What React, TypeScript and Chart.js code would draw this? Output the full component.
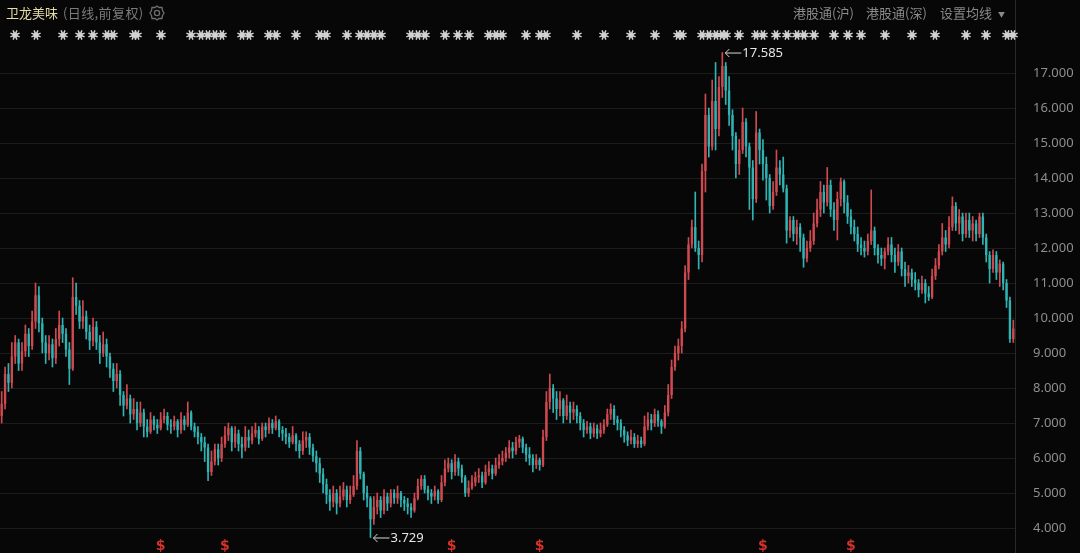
import React, { useEffect, useRef } from "react";
import { Chart, registerables } from "chart.js";

Chart.register(...registerables);

// daily candles (open = previous close)
const firstOpen = 7.2;
const closes = [
  7.55, 8.4, 8.15, 8.9, 9.3, 8.7, 9.05, 9.55, 9.2, 9.9,
  10.65, 9.85, 9.3, 9.0, 9.25, 8.85, 9.4, 9.8, 9.55, 9.1,
  8.55, 10.6, 10.35, 9.9, 10.05, 9.6, 9.35, 9.75, 9.3, 9.0,
  9.25, 8.9, 8.55, 8.2, 8.4, 7.8, 7.5, 7.7, 7.25, 7.4,
  7.0, 7.3, 6.9, 6.75, 7.1, 6.95, 6.85, 7.1, 7.2, 6.95,
  6.9, 7.05, 6.8, 7.1, 6.95, 7.3, 6.9, 6.75, 6.6, 6.45,
  6.3, 5.6, 5.9, 6.25, 6.0, 6.4, 6.65, 6.85, 6.45, 6.7,
  6.4, 6.3, 6.6, 6.5, 6.7, 6.8, 6.55, 6.9, 6.8, 7.0,
  6.85, 7.05, 6.8, 6.7, 6.6, 6.45, 6.65, 6.4, 6.2, 6.5,
  6.6, 6.3, 6.05, 5.85, 5.55, 5.25, 4.95, 4.75, 5.0, 4.7,
  4.9, 5.1, 4.8, 4.95, 5.2, 6.2, 5.55, 5.0, 4.85, 4.25,
  4.6, 4.8, 4.5, 4.9, 4.7, 5.0, 4.85, 5.0, 4.8, 4.7,
  4.6, 4.5, 4.85, 5.2, 5.4, 5.1, 5.0, 4.9, 5.05, 4.8,
  5.3, 5.7, 5.85, 5.6, 5.9, 5.7, 5.45, 5.0, 5.15, 5.3,
  5.45, 5.5, 5.3, 5.6, 5.7, 5.55, 5.8, 5.9, 6.0, 6.15,
  6.3, 6.2, 6.45, 6.55, 6.3, 6.1, 6.0, 5.8, 5.95, 5.8,
  6.6, 7.6, 8.0, 7.7, 7.4, 7.65, 7.2, 7.5, 7.3, 7.4,
  7.2, 7.0, 6.8, 6.9, 6.7, 6.85, 6.7, 6.8, 6.95, 7.25,
  7.4, 7.1, 7.0, 6.8, 6.65, 6.5, 6.6, 6.4, 6.5, 6.4,
  6.9, 7.1, 7.0, 7.25, 7.05, 6.9, 7.3, 7.8, 8.6, 9.0,
  9.2, 9.7, 11.3, 12.1, 12.6, 12.0, 11.8, 14.2, 15.8, 14.9,
  16.2, 15.4, 16.6, 17.2, 16.5, 15.8, 15.2, 14.4, 14.8, 15.6,
  14.9, 14.3, 13.4, 15.3, 14.8, 14.4, 14.0, 13.2, 13.6, 14.3,
  14.1, 13.7, 12.5, 12.8, 12.4, 12.6, 12.3, 11.7, 12.0, 12.2,
  12.7, 13.1, 13.6, 13.3, 13.8, 13.1, 12.8, 13.4, 13.9, 13.3,
  12.9, 12.6, 12.4, 12.1, 12.0, 11.9, 12.2, 12.5, 12.0, 11.8,
  11.7, 11.9, 12.1, 11.8, 11.6, 11.9, 11.4, 11.2, 11.3, 11.1,
  11.0, 10.8, 11.0, 10.7, 10.6, 11.2, 11.5, 11.9, 12.3, 12.1,
  12.6, 13.2, 12.7, 12.9, 12.4, 12.8, 12.5, 12.7, 12.4, 12.9,
  12.3, 11.8, 11.4, 11.8, 11.3, 11.55, 11.0, 10.5, 9.4, 9.7,
];
const highs = [
  7.9, 8.6, 8.7, 9.3, 9.5, 9.4, 9.3, 9.8, 9.7, 10.2,
  11.0, 10.9, 10.0, 9.5, 9.5, 9.4, 9.7, 10.2, 10.0, 9.7,
  9.3, 11.15, 11.0, 10.5, 10.5, 10.2, 9.8, 10.0, 9.9, 9.5,
  9.6, 9.4, 9.0, 8.7, 8.7, 8.5, 7.9, 8.1, 7.8, 7.7,
  7.6, 7.6, 7.4, 7.1, 7.3, 7.2, 7.1, 7.3, 7.4, 7.3,
  7.1, 7.2, 7.1, 7.3, 7.2, 7.6, 7.35, 7.0, 6.9, 6.7,
  6.6, 6.4, 6.2, 6.4, 6.4, 6.6, 6.9, 7.0, 6.9, 6.9,
  6.8, 6.6, 6.9, 6.8, 6.9, 7.0, 6.9, 7.0, 7.0, 7.15,
  7.1, 7.2, 7.1, 6.9, 6.85, 6.7, 6.9, 6.7, 6.5, 6.75,
  6.75, 6.7, 6.4, 6.2, 6.0, 5.7, 5.4, 5.1, 5.2, 5.1,
  5.2, 5.3, 5.2, 5.2, 5.5, 6.5, 6.3, 5.6, 5.2, 4.9,
  4.9, 5.0, 4.9, 5.1, 5.0, 5.1, 5.1, 5.2, 5.05, 4.9,
  4.85, 4.7, 5.0, 5.4, 5.5, 5.5, 5.2, 5.1, 5.2, 5.1,
  5.5, 5.95, 6.0, 5.95, 6.1, 6.0, 5.8, 5.5, 5.35, 5.5,
  5.6, 5.7, 5.6, 5.8, 5.9, 5.8, 6.0, 6.1, 6.2, 6.3,
  6.5, 6.45, 6.6, 6.65, 6.6, 6.4, 6.3, 6.1, 6.1, 6.0,
  6.8, 7.9, 8.4, 8.1, 7.9, 7.9, 7.7, 7.8, 7.6, 7.6,
  7.5, 7.3, 7.1, 7.05, 7.0, 7.0, 6.95, 7.0, 7.1, 7.4,
  7.55, 7.5, 7.2, 7.1, 6.9, 6.75, 6.8, 6.7, 6.65, 6.6,
  7.2, 7.3, 7.25, 7.4, 7.35, 7.1, 7.5, 8.1, 8.8, 9.2,
  9.4, 9.9, 11.5, 12.3, 12.8, 13.6, 12.2, 14.4, 16.4, 16.0,
  16.8, 17.3, 16.9, 17.585, 17.3, 16.9, 15.95, 15.3, 15.1, 16.0,
  15.7, 15.0, 14.5, 15.9, 15.4, 15.1, 14.6, 14.1, 13.9, 14.8,
  14.5, 14.6, 13.8, 12.9, 12.9, 12.8, 12.7, 12.4, 12.2, 12.5,
  13.0, 13.4, 13.9, 13.8, 14.3, 13.94, 13.3, 13.6, 14.0, 13.95,
  13.5, 13.1, 12.8, 12.6, 12.3, 12.2, 12.4, 13.66, 12.6, 12.1,
  12.0, 12.0, 12.3, 12.3, 12.0, 12.1, 12.0, 11.6, 11.5, 11.4,
  11.3, 11.1, 11.2, 11.1, 10.9, 11.4, 11.7, 12.1, 12.7, 12.5,
  12.9, 13.46, 13.3, 13.1, 13.0, 13.0, 13.0, 12.9, 12.8, 13.0,
  13.0, 12.4, 11.9, 11.95, 11.9, 11.66, 11.6, 11.1, 10.6, 9.94,
];
const lows = [
  7.0, 7.4, 7.9, 8.0, 8.7, 8.5, 8.5, 8.9, 8.9, 9.1,
  9.7, 9.6, 9.0, 8.7, 8.8, 8.6, 8.7, 9.2, 9.3, 8.9,
  8.1, 8.5, 10.1, 9.7, 9.7, 9.4, 9.1, 9.2, 9.1, 8.7,
  8.9, 8.6, 8.3, 7.9, 8.0, 7.5, 7.2, 7.4, 7.0, 7.1,
  6.8, 6.9, 6.6, 6.6, 6.7, 6.8, 6.7, 6.8, 7.0, 6.8,
  6.7, 6.8, 6.6, 6.7, 6.8, 6.9, 6.8, 6.6, 6.4, 6.2,
  5.9, 5.35, 5.5, 5.8, 5.8, 5.9, 6.3, 6.5, 6.2, 6.3,
  6.2, 6.0, 6.2, 6.3, 6.4, 6.6, 6.4, 6.5, 6.6, 6.7,
  6.7, 6.8, 6.6, 6.5, 6.4, 6.3, 6.4, 6.2, 6.0, 6.1,
  6.3, 6.1, 5.9, 5.6, 5.3, 5.0, 4.7, 4.5, 4.6, 4.4,
  4.6, 4.8, 4.6, 4.7, 4.9, 5.1, 5.4, 4.8, 4.6, 3.729,
  4.1, 4.4, 4.3, 4.4, 4.5, 4.6, 4.7, 4.7, 4.6, 4.5,
  4.4, 4.3, 4.45, 4.8, 5.1, 5.0, 4.8, 4.7, 4.8, 4.7,
  4.75, 5.2, 5.6, 5.4, 5.5, 5.5, 5.3, 4.9, 4.9, 5.1,
  5.2, 5.3, 5.15, 5.25, 5.5, 5.4, 5.5, 5.7, 5.8, 5.9,
  6.0, 6.0, 6.1, 6.3, 6.15, 5.9, 5.8, 5.6, 5.7, 5.65,
  5.75, 6.5, 7.4, 7.3, 7.1, 7.2, 7.0, 7.1, 7.0, 7.1,
  7.0, 6.8, 6.6, 6.7, 6.55, 6.6, 6.55, 6.6, 6.7, 6.9,
  7.1, 6.95, 6.8, 6.6, 6.45, 6.35, 6.4, 6.3, 6.3, 6.3,
  6.35, 6.8, 6.8, 6.9, 6.9, 6.7, 6.85, 7.2, 7.7, 8.5,
  8.8, 9.0, 9.6, 11.1, 12.0, 11.9, 11.4, 11.6, 13.6, 14.6,
  14.8, 14.8, 15.2, 16.3, 16.1, 15.5, 14.8, 14.0, 14.1, 14.7,
  14.6, 13.1, 12.8, 13.3, 14.4, 13.94, 13.37, 13.0, 13.1, 13.5,
  13.8, 13.6, 12.14, 12.3, 12.2, 12.1, 11.9, 11.45, 11.6, 11.9,
  12.1, 12.6, 12.9, 13.0, 13.2, 12.9, 12.5, 12.23, 13.2, 13.0,
  12.7, 12.4, 12.2, 11.9, 11.8, 11.74, 11.8, 12.1, 11.8, 11.57,
  11.5, 11.4, 11.8, 11.6, 11.3, 11.5, 11.2, 10.9, 11.0, 10.9,
  10.8, 10.6, 10.7, 10.43, 10.5, 10.55, 11.1, 11.4, 11.8, 11.9,
  12.0, 12.5, 12.5, 12.4, 12.2, 12.3, 12.3, 12.2, 12.2, 12.3,
  12.1, 11.6, 11.0, 11.3, 11.1, 10.9, 10.8, 10.3, 9.3, 9.3,
];

const yTicks = [4, 5, 6, 7, 8, 9, 10, 11, 12, 13, 14, 15, 16, 17];
// event markers row and dividend ($) markers, by candle index
const markerIdx = [
  4, 10, 18, 23, 27, 31, 33, 39, 40, 47, 56, 59, 61, 63, 65, 71, 73, 79, 81, 87,
  94, 96, 102, 106, 108, 110, 112, 121, 123, 125, 131, 135, 138, 144, 146, 148, 155, 159, 161,
  170, 178, 186, 193, 200, 201, 207, 209, 211, 213, 214, 218, 223, 225, 229, 232, 235, 237,
  240, 246, 250, 254, 261, 269, 276, 285, 291, 297, 299,
];
const dividendIdx = [47, 66, 133, 159, 225, 251];
const maxIdx = 213;
const minIdx = 109;

const UP = "#cf4a50";
const DOWN = "#2fb3b3";

const App: React.FC = () => {
  const chartRef = useRef<HTMLCanvasElement>(null);

  useEffect(() => {
    if (!chartRef.current) return;
    const opens = closes.map((_, i) => (i === 0 ? firstOpen : closes[i - 1]));
    const labels = closes.map((_, i) => String(i));
    const colors = closes.map((c, i) => (c >= opens[i] ? UP : DOWN));
    const bodies = closes.map((c, i) => [opens[i], c]);
    const wicks = closes.map((c, i) => [
      Math.min(lows[i], opens[i], c),
      Math.max(highs[i], opens[i], c),
    ]);

    const overlay = {
      id: "overlay",
      afterDatasetsDraw(chart: any) {
        const ctx = chart.ctx as CanvasRenderingContext2D;
        const xs = chart.scales.x;
        const ys = chart.scales.y;
        ctx.save();

        // marker row
        ctx.strokeStyle = "#d2d2d2";
        ctx.fillStyle = "#d2d2d2";
        ctx.lineWidth = 1.5;
        markerIdx.forEach((i) => {
          const px = Math.round(xs.getPixelForValue(i));
          const py = 35;
          for (let k = 0; k < 8; k++) {
            const a = (Math.PI / 4) * k + Math.PI / 8;
            ctx.beginPath();
            ctx.moveTo(px, py);
            ctx.lineTo(px + Math.cos(a) * 5, py + Math.sin(a) * 5);
            ctx.stroke();
          }
          ctx.beginPath();
          ctx.arc(px, py, 2.6, 0, Math.PI * 2);
          ctx.fill();
        });

        // dividend markers
        ctx.fillStyle = "#d4322c";
        ctx.font = "bold 14px 'DejaVu Sans', sans-serif";
        ctx.textAlign = "center";
        ctx.textBaseline = "middle";
        dividendIdx.forEach((i) => {
          ctx.fillText("$", xs.getPixelForValue(i), 546);
        });

        // max / min labels
        const label = (i: number, v: number) => {
          const px = xs.getPixelForValue(i) + 2;
          const py = ys.getPixelForValue(v);
          ctx.strokeStyle = "#d8d8d8";
          ctx.lineWidth = 1;
          ctx.beginPath();
          ctx.moveTo(px + 1, py + 0.5);
          ctx.lineTo(px + 17, py + 0.5);
          ctx.moveTo(px + 5, py - 3.5);
          ctx.lineTo(px + 1, py + 0.5);
          ctx.lineTo(px + 5, py + 4.5);
          ctx.stroke();
          ctx.fillStyle = "#e6e6e6";
          ctx.font = "13px 'Noto Sans', sans-serif";
          ctx.textAlign = "left";
          ctx.fillText(v.toFixed(3), px + 18, py + 1);
        };
        label(maxIdx, highs[maxIdx]);
        label(minIdx, lows[minIdx]);
        ctx.restore();
      },
    };

    const chart = new Chart(chartRef.current, {
      type: "bar",
      data: {
        labels,
        datasets: [
          {
            label: "wick",
            data: wicks as any,
            backgroundColor: colors,
            barThickness: 1,
            grouped: false,
            order: 2,
          },
          {
            label: "body",
            data: bodies as any,
            backgroundColor: colors,
            categoryPercentage: 1,
            barPercentage: 0.7,
            minBarLength: 1,
            grouped: false,
            order: 1,
          },
        ],
      },
      options: {
        animation: false,
        responsive: true,
        maintainAspectRatio: false,
        layout: { padding: 0 },
        plugins: {
          legend: { display: false },
          tooltip: { enabled: false },
        },
        scales: {
          x: { display: false, offset: true },
          y: {
            position: "right",
            min: 3.286,
            max: 19.086,
            afterBuildTicks: (s: any) => {
              s.ticks = yTicks.map((v) => ({ value: v }));
            },
            afterFit: (s: any) => {
              // axis column only, no extra vertical padding for labels
              s.width = 65;
              s.paddingTop = 0;
              s.paddingBottom = 0;
            },
            grid: { color: "#1c1c1c", drawTicks: false },
            border: { display: true, color: "#2a2a2a" },
            ticks: {
              color: "#8e8e8e",
              padding: 18,
              font: { family: "'Noto Sans', sans-serif", size: 13 },
              callback: (v: any) => Number(v).toFixed(3),
            },
          },
        },
      },
      plugins: [overlay],
    });

    return () => {
      chart.destroy();
    };
  }, []);

  const gray = "#8a8a8a";
  const cjk = "'Noto Sans CJK SC', sans-serif";

  return (
    <div
      style={{
        position: "absolute",
        left: 0,
        top: 0,
        width: 1080,
        height: 553,
        background: "#070707",
        fontFamily: cjk,
        overflow: "hidden",
      }}
    >
      <canvas ref={chartRef}></canvas>
      <div style={{ position: "absolute", left: 6, top: 4, lineHeight: "18px", fontSize: 13 }}>
        <span style={{ color: "#e6dca6" }}>卫龙美味</span>
        <span style={{ color: "#7c7c7c", marginLeft: 5, letterSpacing: 0.4 }}>(日线,前复权)</span>
      </div>
      <svg style={{ position: "absolute", left: 149, top: 5 }} width="16" height="16" viewBox="0 0 16 16">
        <polygon
          points="8,1 10,2.5 13,2.5 13.5,5.5 15,8 13.5,10.5 13,13.5 10,13.5 8,15 6,13.5 3,13.5 2.5,10.5 1,8 2.5,5.5 3,2.5 6,2.5"
          fill="none"
          stroke="#6f6f6f"
          strokeWidth="1.3"
        />
        <circle cx="8" cy="8" r="2.6" fill="none" stroke="#6f6f6f" strokeWidth="1.3" />
      </svg>
      <div style={{ position: "absolute", left: 793, top: 4, lineHeight: "18px", fontSize: 13, color: gray }}>
        港股通(沪)
      </div>
      <div style={{ position: "absolute", left: 866, top: 4, lineHeight: "18px", fontSize: 13, color: gray }}>
        港股通(深)
      </div>
      <div style={{ position: "absolute", left: 940, top: 4, lineHeight: "18px", fontSize: 13, color: gray }}>
        设置均线
      </div>
      <div style={{ position: "absolute", left: 998, top: 5, lineHeight: "18px", fontSize: 7, color: gray }}>
        ▼
      </div>
    </div>
  );
};

export default App;
